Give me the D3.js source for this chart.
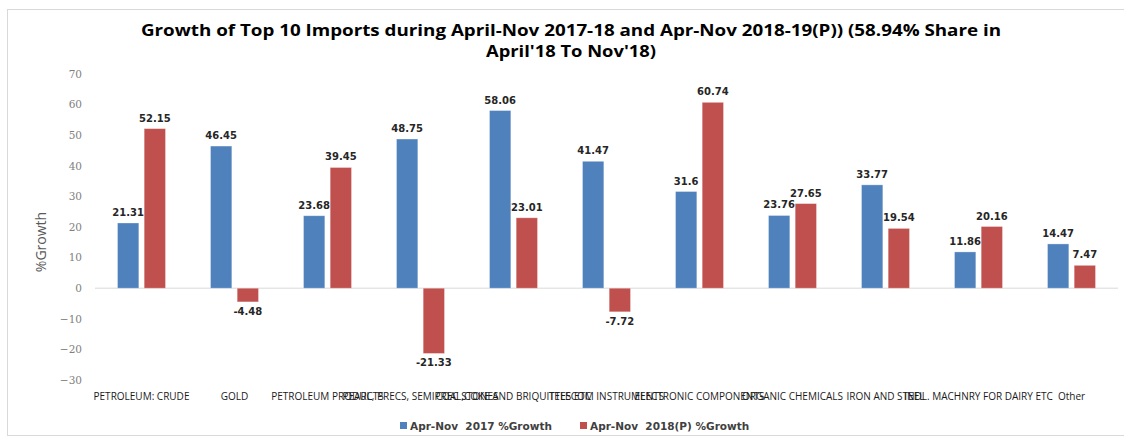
<!DOCTYPE html>
<html>
<head>
<meta charset="utf-8">
<script src="https://cdn.jsdelivr.net/npm/d3@7"></script>
<style>
  body { margin: 0; background: #fff; }
  svg { display: block; }
</style>
</head>
<body>
<svg width="1124" height="438"></svg>
<script>
const categories = ["PETROLEUM: CRUDE", "GOLD", "PETROLEUM PRODUCTS", "PEARL, PRECS, SEMIPREC STONES",
  "COAL,COKE AND BRIQUITTES ETC", "TELECOM INSTRUMENTS", "ELECTRONIC COMPONENTS", "ORGANIC CHEMICALS",
  "IRON AND STEEL", "INDL. MACHNRY FOR DAIRY ETC", "Other"];
const series = ["Apr-Nov  2017 %Growth", "Apr-Nov  2018(P) %Growth"];
const growth2017 = [21.31, 46.45, 23.68, 48.75, 58.06, 41.47, 31.6, 23.76, 33.77, 11.86, 14.47];
const growth2018 = [52.15, -4.48, 39.45, -21.33, 23.01, -7.72, 60.74, 27.65, 19.54, 20.16, 7.47];
const yTicks = [-30, -20, -10, 0, 10, 20, 30, 40, 50, 60, 70];
const colors = ["#4F81BD", "#C0504D"];

const svg = d3.select("svg");

// chart border
svg.append("rect")
  .attr("x", 7.5).attr("y", 9.5)
  .attr("width", 1130).attr("height", 426)
  .attr("fill", "none").attr("stroke", "#d9d9d9");

// title
const title = svg.append("text")
  .attr("text-anchor", "middle")
  .style("font-family", "'Open Sans', sans-serif")
  .style("font-weight", "bold")
  .style("font-size", "16px")
  .attr("fill", "#000");
title.append("tspan").attr("x", 571).attr("y", 36)
  .attr("textLength", 860).attr("lengthAdjust", "spacingAndGlyphs")
  .text("Growth of Top 10 Imports during April-Nov 2017-18 and Apr-Nov 2018-19(P)) (58.94% Share in");
title.append("tspan").attr("x", 571).attr("y", 57)
  .attr("textLength", 170).attr("lengthAdjust", "spacingAndGlyphs")
  .text("April'18 To Nov'18)");

const x0 = d3.scaleBand().domain(categories).range([95, 1118]);
const cw = x0.bandwidth();
const x1 = d3.scaleBand().domain(series).range([cw / 2 - 24, cw / 2 + 24]).paddingInner(0.2);
const y = d3.scaleLinear().domain([-30, 70]).range([380, 74]);

// y axis labels
const yAxis = svg.append("g")
  .attr("transform", "translate(82,0)")
  .call(d3.axisLeft(y).tickValues(yTicks).tickSize(0).tickPadding(0));
yAxis.select(".domain").remove();
yAxis.selectAll("text")
  .style("font-family", "'DejaVu Serif', serif")
  .style("font-size", "10.5px")
  .attr("fill", "#7f7f7f");

// y axis title
svg.append("text")
  .attr("transform", "translate(46,242) rotate(-90)")
  .attr("text-anchor", "middle")
  .style("font-family", "'Open Sans', sans-serif")
  .style("font-size", "14px")
  .attr("fill", "#595959")
  .text("%Growth");

// zero line
svg.append("line")
  .attr("x1", 95).attr("x2", 1118)
  .attr("y1", y(0)).attr("y2", y(0))
  .attr("stroke", "#d9d9d9").attr("stroke-width", 1);

const rows = categories.map((c, i) => ({ cat: c, vals: [growth2017[i], growth2018[i]] }));

const groups = svg.selectAll(".cat")
  .data(rows)
  .enter().append("g")
  .attr("class", "cat")
  .attr("transform", d => "translate(" + x0(d.cat) + ",0)");

groups.selectAll("rect")
  .data(d => d.vals.map((v, j) => ({ s: series[j], v: v, j: j })))
  .enter().append("rect")
  .attr("x", d => x1(d.s))
  .attr("width", x1.bandwidth())
  .attr("y", d => y(Math.max(0, d.v)))
  .attr("height", d => Math.abs(y(d.v) - y(0)))
  .attr("fill", d => colors[d.j])
  .attr("stroke", "#fff").attr("stroke-opacity", 0.4).attr("stroke-width", 0.8);

groups.selectAll(".val")
  .data(d => d.vals.map((v, j) => ({ s: series[j], v: v, j: j })))
  .enter().append("text")
  .attr("class", "val")
  .attr("x", d => x1(d.s) + x1.bandwidth() / 2)
  .attr("y", d => d.v >= 0 ? y(d.v) - 7 : y(d.v) + 13)
  .attr("text-anchor", "middle")
  .style("font-family", "'DejaVu Sans', sans-serif")
  .style("font-weight", "bold")
  .style("font-size", "10px")
  .attr("fill", "#262626")
  .text(d => d.v);

// category labels
svg.selectAll(".catlabel")
  .data(categories)
  .enter().append("text")
  .attr("class", "catlabel")
  .attr("x", d => x0(d) + cw / 2)
  .attr("y", 400)
  .attr("text-anchor", "middle")
  .style("font-family", "'Open Sans', sans-serif")
  .style("font-size", "10px")
  .attr("fill", "#1a1a1a")
  .text(d => d);

// legend
const legendX = [400, 580];
const legend = svg.selectAll(".legend")
  .data(series)
  .enter().append("g")
  .attr("class", "legend")
  .attr("transform", (d, i) => "translate(" + legendX[i] + ",426)");
legend.append("rect")
  .attr("x", 0).attr("y", -4).attr("width", 7).attr("height", 7)
  .attr("fill", (d, i) => colors[i]);
legend.append("text")
  .attr("x", 10).attr("y", 4)
  .style("font-family", "'DejaVu Sans', sans-serif")
  .style("font-weight", "bold")
  .style("font-size", "10.5px")
  .attr("fill", "#404040")
  .style("white-space", "pre")
  .attr("xml:space", "preserve")
  .text(d => d);
</script>
</body>
</html>
